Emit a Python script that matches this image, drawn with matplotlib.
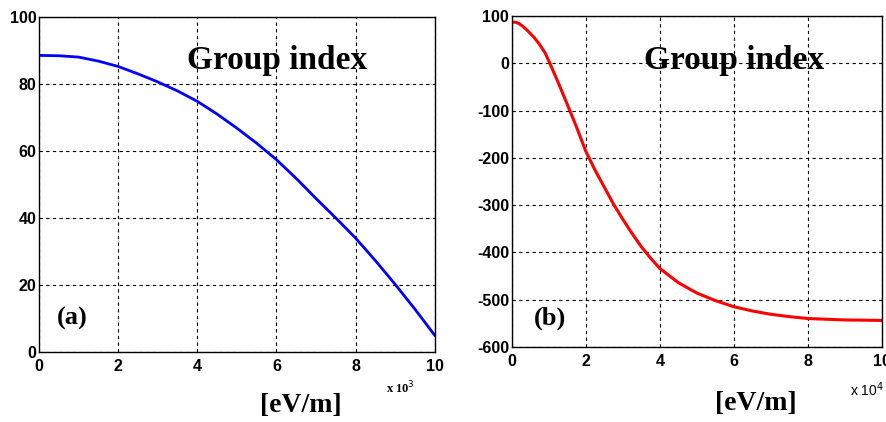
import matplotlib
matplotlib.use("Agg")
import matplotlib.pyplot as plt
from matplotlib.font_manager import FontProperties

plt.rcParams["axes.unicode_minus"] = False

# === 資料 (a): x 單位 10^3 eV/m ===
xa = [0, 0.5, 1, 1.5, 2, 2.5, 3, 3.5, 4, 4.5, 5, 5.5, 6, 6.5, 7, 7.5, 8, 8.5, 9, 9.5, 10]
ya = [88.5, 88.4, 88.0, 86.8, 85.2, 83.0, 80.6, 77.9, 74.8, 71.0, 66.8, 62.3, 57.4, 51.8, 45.8, 40.0, 34.0, 27.3, 20.2, 12.8, 5.0]

# === 資料 (b): x 單位 10^4 eV/m ===
xb = [0, 0.1, 0.2, 0.3, 0.4, 0.5, 0.6, 0.75, 0.9, 1.0, 1.25, 1.5, 1.75, 2.0, 2.25, 2.5, 2.75,
      3.0, 3.25, 3.5, 3.75, 4.0, 4.5, 5.0, 5.5, 6.0, 6.5, 7.0, 7.5, 8.0, 9.0, 10.0]
yb = [87, 87, 84, 78, 71, 63, 55, 40, 22, 5, -40, -87, -135, -186, -226, -262, -298,
      -330, -360, -388, -412, -434, -464, -486, -502, -515, -524, -531, -536, -540, -543, -544]

tick_fp = FontProperties(family="Liberation Sans", weight="bold", size=11.5)
serif = "Liberation Serif"

fig = plt.figure(figsize=(8.87, 4.22), dpi=100)
ax1 = fig.add_axes([0.044, 0.166, 0.446, 0.794])
ax2 = fig.add_axes([0.577, 0.178, 0.417, 0.784])

ax1.plot(xa, ya, color="blue", linewidth=2)
ax1.set_xlim(0, 10)
ax1.set_ylim(0, 100)
ax1.set_xticks(range(0, 11, 2))
ax1.set_yticks(range(0, 101, 20))

ax2.plot(xb, yb, color="red", linewidth=2.2)
ax2.set_xlim(0, 10)
ax2.set_ylim(-600, 100)
ax2.set_xticks(range(0, 11, 2))
ax2.set_yticks(range(-600, 101, 100))

for ax in (ax1, ax2):
    ax.grid(True, color="black", linestyle=(0, (3, 3)), linewidth=0.8)
    ax.tick_params(direction="in", length=0, pad=2)
    ax.tick_params(axis="x", pad=5)
    for lab in ax.get_xticklabels() + ax.get_yticklabels():
        lab.set_fontproperties(tick_fp)
    for s in ax.spines.values():
        s.set_linewidth(1.0)

# 文字
fig.text(0.312, 0.857, "Group index", family=serif, weight="bold", size=24, ha="center", va="center")
fig.text(0.828, 0.857, "Group index", family=serif, weight="bold", size=24, ha="center", va="center")
fig.text(0.081, 0.246, "(a)", family=serif, weight="bold", size=19, ha="center", va="center")
fig.text(0.620, 0.246, "(b)", family=serif, weight="bold", size=19, ha="center", va="center")
fig.text(0.339, 0.040, "[eV/m]", family=serif, weight="bold", size=20, ha="center", va="center")
fig.text(0.852, 0.045, "[eV/m]", family=serif, weight="bold", size=20, ha="center", va="center")
fig.text(0.451, 0.081, r"x 10$^3$", family=serif, weight="bold", size=9, ha="center", va="center")
fig.text(0.977, 0.076, r"x 10$^4$", family="Liberation Sans", size=10, ha="center", va="center")

fig.savefig("out.png", dpi=100)
